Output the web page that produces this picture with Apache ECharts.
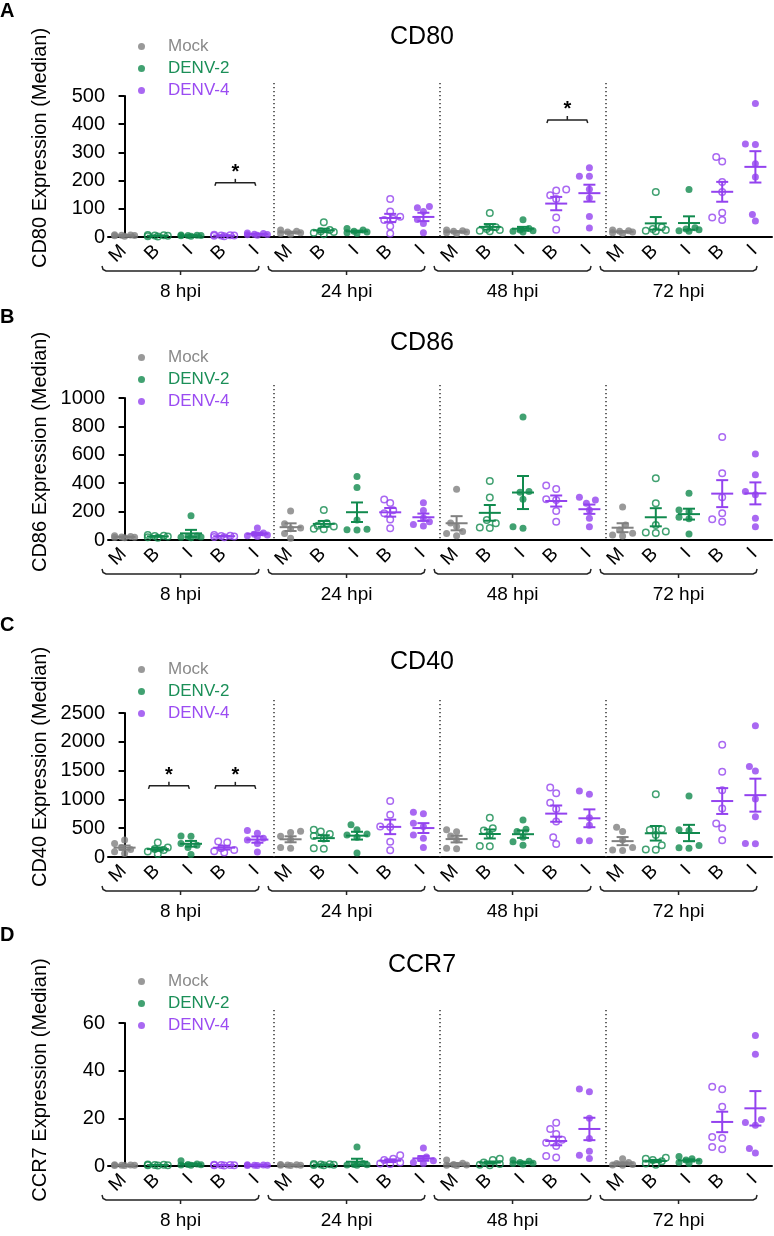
<!DOCTYPE html>
<html>
<head>
<meta charset="utf-8">
<script src="https://cdn.jsdelivr.net/npm/echarts@6/dist/echarts.min.js"></script>
<style>html,body{margin:0;padding:0;background:#fff}#c{width:774px;height:1236px}</style>
</head>
<body>
<div id="c"></div>
<script>
// ---------- DATA ----------
const categories = ['M','B','I','B','I','M','B','I','B','I','M','B','I','B','I','M','B','I','B','I'];
const timeLabels = ['8 hpi','24 hpi','48 hpi','72 hpi'];
const legendNames = ['Mock','DENV-2','DENV-4'];
const panelTitles = ['CD80','CD86','CD40','CCR7'];
const panelLetters = ['A','B','C','D'];
const yAxisNames = ['CD80 Expression (Median)','CD86 Expression (Median)','CD40 Expression (Median)','CCR7 Expression (Median)'];
const yMax = [500, 1000, 2500, 60];
const yInterval = [100, 200, 500, 20];

// group order inside each time point: Mock, DENV-2 bystander (B), DENV-2 infected (I), DENV-4 B, DENV-4 I
const cd80_8hpi  = [[3,5,8,6,4,7],[2,4,6,5,3,7],[3,5,6,4,7,5],[3,5,8,6,4,5],[6,10,12,8,9,14]];
const cd80_24hpi = [[10,15,20,25,12,18],[52,25,15,10,20,18],[30,25,20,15,12,18],[135,90,72,65,60,38,12],[108,104,90,62,48,15]];
const cd80_48hpi = [[15,20,25,22,18,12],[85,35,28,22,20,25],[61,30,25,20,22,18],[168,165,148,135,69,26],[246,215,215,169,138,73,32]];
const cd80_72hpi = [[15,22,25,18,20,12],[160,35,28,22,25,20],[168,33,26,22,28,20],[284,268,195,160,86,69,60],[473,330,328,260,213,80,57]];

const cd86_8hpi  = [[15,20,25,30,18,22],[20,25,30,35,15,28],[170,28,20,25,15,22],[20,25,30,35,22,28],[85,50,40,30,25,35]];
const cd86_24hpi = [[205,115,85,80,45,12],[212,118,95,80,75,100],[447,369,141,75,70,72],[285,260,210,188,145,82],[262,208,155,128,110,98]];
const cd86_48hpi = [[358,120,95,60,30,45],[416,299,141,118,88,85],[866,341,336,287,94,82],[384,360,287,282,205,129],[301,282,259,212,153,94]];
const cd86_72hpi = [[233,106,70,47,35,28],[435,259,106,59,52,50],[329,212,200,160,150,42],[725,470,301,188,146,129],[605,459,341,318,153,94]];

const cd40_8hpi  = [[295,235,165,130,90,60],[250,165,140,120,95,50],[365,360,235,205,165,45],[270,250,150,120,100,80],[459,412,324,294,235,88]];
const cd40_24hpi = [[445,425,360,300,165,150],[471,441,400,365,320,150,145],[559,471,400,382,341,70],[971,735,529,520,265,118],[776,753,588,529,382,324,165]];
const cd40_48hpi = [[471,440,365,294,150,145],[682,500,459,382,190,185],[641,482,441,341,265,206],[1206,1106,941,835,618,341,224],[1147,1088,682,553,282,280]];
const cd40_72hpi = [[518,441,294,165,120,115],[1088,482,470,382,206,130,125],[1059,471,460,200,160,150],[1950,1480,1160,840,580,500,290],[2280,1570,1495,1005,700,235,230]];

const ccr7_8hpi  = [[0.2,0.3,0.5,0.4,0.3,0.2],[0.3,0.5,0.4,0.2,0.6,0.3],[2.2,0.8,0.5,0.4,0.6,0.3],[0.3,0.4,0.5,0.2,0.3,0.4],[0.3,0.2,0.4,0.3,0.5,0.2]];
const ccr7_24hpi = [[0.3,0.5,0.4,0.2,0.6,0.3],[0.5,0.8,0.4,0.6,0.3,0.7],[8,1,0.6,0.5,0.4,0.3],[4.5,3,2.5,1.5,1,0.8],[7.6,3.8,3,2.2,1.5,1]];
const ccr7_48hpi = [[2.5,1.2,0.6,0.4,0.3,0.2],[3,2.5,1.5,0.8,0.5,0.3],[2.5,2,1.5,1.2,1,0.8],[18.1,15.5,13.4,11,9.8,8.4,4.2,3.6],[32.3,31.2,20,11.5,6.2,4.5,3.1]];
const ccr7_72hpi = [[3,1.5,1,0.6,0.4,0.3],[3.5,3,2.5,2,1,0.5],[4,3,2.5,2,1.5,1],[33.3,32.2,24.9,12.2,11.8,8,7],[54.8,46.9,19.5,18.3,17.1,7.3,5.5]];

// significance brackets: [from category, to category, height value]
const sigCD80 = [[3,4,192],[13,14,415]];
const sigCD86 = [];
const sigCD40 = [[1,2,1235],[3,4,1235]];
const sigCCR7 = [];

// ---------- BUILD ----------
const panelData = [
  [cd80_8hpi, cd80_24hpi, cd80_48hpi, cd80_72hpi],
  [cd86_8hpi, cd86_24hpi, cd86_48hpi, cd86_72hpi],
  [cd40_8hpi, cd40_24hpi, cd40_48hpi, cd40_72hpi],
  [ccr7_8hpi, ccr7_24hpi, ccr7_48hpi, ccr7_72hpi]
];
const panelSig = [sigCD80, sigCD86, sigCD40, sigCCR7];

const FONT = "'Liberation Sans', Arial, Helvetica, sans-serif";
const colors = ['#808080', '#118a4e', '#9342ef'];
const legendTextColors = ['#8a8a8a', '#1b8f58', '#9b4cf2'];
const groupVirus = [0, 1, 1, 2, 2];
const groupHollow = [false, true, false, true, false];

const layout = [
  {top: 96, height: 141, legendTop: 33, titleY: 37, letterY: 11, nameY: 148},
  {top: 398, height: 142, legendTop: 344, titleY: 343, letterY: 317, nameY: 452},
  {top: 713, height: 144, legendTop: 656, titleY: 662, letterY: 625, nameY: 767},
  {top: 1023, height: 143, legendTop: 968, titleY: 965, letterY: 935, nameY: 1080}
];
const GRID_LEFT = 108, GRID_RIGHT = 2;
const R = 3.5;

function swarm(vals, pxPerUnit) {
  const order = vals.map((v, i) => i).sort((a, b) => vals[a] - vals[b]);
  const placed = [];
  const off = new Array(vals.length).fill(0);
  const cands = [0, -6, 6, -10, 10, -3, 3];
  for (const i of order) {
    const y = vals[i] * pxPerUnit;
    let best = 0, bestPen = Infinity;
    for (const dx of cands) {
      let pen = Math.abs(dx) * 0.01;
      for (const p of placed) {
        const d = Math.hypot(dx - p.x, y - p.y);
        if (d < 2 * R) pen += 2 * R - d;
      }
      if (pen < bestPen - 1e-9) { bestPen = pen; best = dx; }
    }
    placed.push({x: best, y});
    off[i] = best;
  }
  return off;
}

function meanSem(vals) {
  const n = vals.length;
  const m = vals.reduce((a, b) => a + b, 0) / n;
  const sd = Math.sqrt(vals.reduce((a, b) => a + (b - m) * (b - m), 0) / (n - 1));
  return [m, sd / Math.sqrt(n)];
}

function txt(x, y, text, font, align, rotation) {
  return {type: 'text', x: x, y: y, rotation: rotation || 0, silent: true,
    style: {text: text, font: font, fill: '#000', align: align, verticalAlign: 'middle',
      textAlign: align, textVerticalAlign: 'middle'}};
}

const grids = [], xAxes = [], yAxes = [], series = [], legends = [], graphics = [];

panelData.forEach((times, p) => {
  const L = layout[p];
  grids.push({left: GRID_LEFT, right: GRID_RIGHT, top: L.top, height: L.height});
  xAxes.push({
    type: 'category', gridIndex: p, data: categories, boundaryGap: true,
    axisLine: {lineStyle: {color: '#000', width: 2}},
    axisTick: {alignWithLabel: true, length: 6, lineStyle: {color: '#000', width: 2}},
    axisLabel: {show: false},
    splitLine: {show: false}
  });
  xAxes.push({type: 'value', gridIndex: p, min: -0.5, max: 19.5, show: false});
  yAxes.push({
    type: 'value', gridIndex: p, min: 0, max: yMax[p], interval: yInterval[p],
    axisLine: {show: true, lineStyle: {color: '#000', width: 2}},
    axisTick: {show: true, length: 6, lineStyle: {color: '#000', width: 2}},
    axisLabel: {fontSize: 20, color: '#000', fontFamily: FONT, margin: 3, formatter: v => String(v)},
    splitLine: {show: false}
  });
  const pxPerUnit = L.height / yMax[p];
  const scatterData = [[], [], []];
  const errData = [];
  times.forEach((groups, t) => {
    groups.forEach((vals, g) => {
      const ci = t * 5 + g;
      const v = groupVirus[g];
      const offs = swarm(vals, pxPerUnit);
      vals.forEach((val, k) => {
        scatterData[v].push({
          value: [ci, val],
          symbolOffset: [offs[k], 0],
          symbolSize: groupHollow[g] ? 6.5 : 7,
          itemStyle: groupHollow[g]
            ? {color: 'rgba(255,255,255,0)', borderColor: colors[v], borderWidth: 1.5}
            : {color: colors[v], borderWidth: 0}
        });
      });
      const [m, s] = meanSem(vals);
      errData.push([ci, m, s, v]);
    });
  });
  legendNames.forEach((nm, v) => {
    series.push({
      name: nm, type: 'scatter', xAxisIndex: 2 * p, yAxisIndex: p,
      symbol: 'circle', symbolSize: 7, symbolOffset: [0, 0],
      itemStyle: {color: colors[v]}, data: scatterData[v], z: 3,
      emphasis: {disabled: true}
    });
  });
  series.push({
    type: 'custom', xAxisIndex: 2 * p, yAxisIndex: p, z: 4, silent: true,
    data: errData,
    renderItem: (params, api) => {
      const x = api.value(0), m = api.value(1), s = api.value(2), v = api.value(3);
      const c = api.coord([x, m]), hi = api.coord([x, m + s]), lo = api.coord([x, Math.max(0, m - s)]);
      const st = {stroke: colors[v], lineWidth: 2, fill: null};
      return {type: 'group', children: [
        {type: 'line', shape: {x1: c[0] - 11, y1: c[1], x2: c[0] + 11, y2: c[1]}, style: st},
        {type: 'line', shape: {x1: c[0], y1: hi[1], x2: c[0], y2: lo[1]}, style: st},
        {type: 'line', shape: {x1: c[0] - 6, y1: hi[1], x2: c[0] + 6, y2: hi[1]}, style: st},
        {type: 'line', shape: {x1: c[0] - 6, y1: lo[1], x2: c[0] + 6, y2: lo[1]}, style: st}
      ]};
    }
  });
  // dotted separators between time points
  series.push({
    type: 'custom', xAxisIndex: 2 * p + 1, yAxisIndex: p, z: 1, silent: true,
    data: [1, 2, 3].map(g => [g * 5 - 0.5, 0]),
    renderItem: (params, api) => {
      const b = api.coord([api.value(0), 0]);
      const top = params.coordSys.y - 13;
      return {type: 'line', shape: {x1: b[0], y1: top, x2: b[0], y2: b[1]},
        style: {stroke: '#333', lineWidth: 1.5, lineDash: [1.2, 2.8], fill: null}};
    }
  });
  // time point braces + labels
  series.push({
    type: 'custom', xAxisIndex: 2 * p + 1, yAxisIndex: p, z: 1, silent: true, clip: false,
    data: timeLabels.map((tl, g) => [g * 5, 0]),
    renderItem: (params, api) => {
      const g0 = api.value(0);
      const a = api.coord([g0 - 0.68, 0])[0];
      const b = api.coord([g0 + 4.05, 0])[0];
      const mid = (a + b) / 2;
      const y = params.coordSys.y + params.coordSys.height + 34;
      const st = {stroke: '#222', lineWidth: 1.5, fill: null};
      return {type: 'group', children: [
        {type: 'polyline', shape: {points: [[a, y - 5], [a + 1, y - 1.5], [a + 4, y], [b - 4, y], [b - 1, y - 1.5], [b, y - 5]]}, style: st},
        {type: 'line', shape: {x1: mid, y1: y, x2: mid, y2: y + 4}, style: st},
        {type: 'text', x: mid, y: y + 21, style: {text: timeLabels[params.dataIndex], font: '19px ' + FONT, fill: '#000',
          align: 'center', verticalAlign: 'middle', textAlign: 'center', textVerticalAlign: 'middle'}}
      ]};
    }
  });
  // significance brackets
  if (panelSig[p].length) {
    series.push({
      type: 'custom', xAxisIndex: 2 * p + 1, yAxisIndex: p, z: 2, silent: true, clip: false,
      data: panelSig[p],
      renderItem: (params, api) => {
        const f = api.value(0), t = api.value(1), h = api.value(2);
        const p1 = api.coord([f - 0.28, h]), p2 = api.coord([t - 0.05, h]);
        const mid = (p1[0] + p2[0]) / 2, y = p1[1];
        const st = {stroke: '#222', lineWidth: 1.5, fill: null};
        return {type: 'group', children: [
          {type: 'polyline', shape: {points: [[p1[0], y + 3], [p1[0] + 1, y], [p2[0] - 1, y], [p2[0], y + 3]]}, style: st},
          {type: 'line', shape: {x1: mid, y1: y, x2: mid, y2: y - 4}, style: st},
          {type: 'text', x: mid, y: y - 10, style: {text: '*', font: 'bold 20px ' + FONT, fill: '#000',
            align: 'center', verticalAlign: 'middle', textAlign: 'center', textVerticalAlign: 'middle'}}
        ]};
      }
    });
  }
  legends.push({
    orient: 'vertical', left: 133, top: L.legendTop, itemWidth: 7, itemHeight: 7, itemGap: 5,
    icon: 'circle', selectedMode: false,
    textStyle: {fontSize: 17, fontFamily: FONT, padding: [0, 0, 0, 18]},
    data: legendNames.map((nm, v) => ({name: nm, textStyle: {color: legendTextColors[v]}, itemStyle: {color: colors[v]}}))
  });
  graphics.push(txt(422, L.titleY, panelTitles[p], '25px ' + FONT, 'center'));
  graphics.push(txt(0, L.letterY, panelLetters[p], 'bold 20px ' + FONT, 'left'));
  graphics.push(txt(40, L.nameY, yAxisNames[p], '20px ' + FONT, 'center', Math.PI / 2));
});

const chart = echarts.init(document.getElementById('c'), null, {renderer: 'canvas'});
chart.setOption({
  animation: false,
  backgroundColor: '#fff',
  grid: grids,
  xAxis: xAxes,
  yAxis: yAxes,
  legend: legends,
  series: series,
  graphic: graphics
});

// rotated (45°) category tick labels, placed through the category axes' own scale
const labelGraphics = graphics.slice();
panelData.forEach((times, p) => {
  const y0 = chart.convertToPixel({yAxisIndex: p}, 0);
  categories.forEach((c, i) => {
    const x0 = chart.convertToPixel({xAxisIndex: 2 * p}, i);
    labelGraphics.push(txt(x0 - 1, y0 + 11, c, '19px ' + FONT, 'right', Math.PI / 4));
  });
});
chart.setOption({graphic: labelGraphics});
</script>
</body>
</html>
